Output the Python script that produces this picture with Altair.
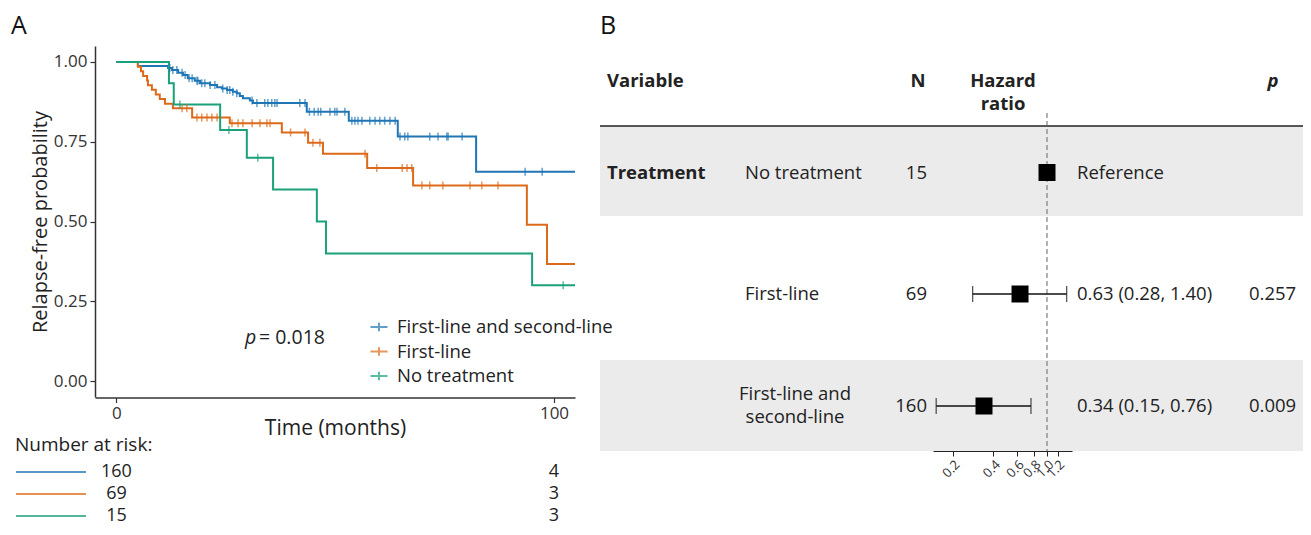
import altair as alt
import pandas as pd

FONT = "Open Sans"
W, H = 1295, 519
OX, OY = 8, 8
FS = 18.5


def px(x):
    return x - OX


def py(y):
    return y - OY


# ---------------- data ----------------
groups = ["First-line and second-line", "First-line", "No treatment"]
colors = ["#2076B5", "#DD6A1A", "#1AA07A"]

blue_t = [0, 4.9, 11.8, 12.7, 14.1, 15.2, 16.3, 17.9, 19.1, 21.4, 23.0, 24.1, 25.3, 26.6, 27.5,
          28.2, 28.9, 30.5, 31.2, 43.5, 53.1, 64.3, 82.2]
blue_s = [1.000, 0.987, 0.981, 0.975, 0.966, 0.959, 0.949, 0.941, 0.933, 0.928, 0.921, 0.917,
          0.912, 0.907, 0.902, 0.893, 0.886, 0.879, 0.871, 0.844, 0.816, 0.766, 0.656]
orange_t = [0, 4.9, 5.6, 6.1, 7.0, 7.2, 8.1, 9.0, 9.9, 11.1, 12.9, 17.3, 25.9, 37.8, 43.8, 47.2,
            57.3, 67.8, 93.8, 98.4]
orange_s = [1.000, 0.985, 0.971, 0.956, 0.942, 0.927, 0.913, 0.898, 0.884, 0.869, 0.855, 0.826,
            0.808, 0.779, 0.747, 0.712, 0.668, 0.613, 0.490, 0.367]
green_t = [0, 12.0, 13.1, 23.7, 29.8, 35.8, 45.8, 47.9, 95.0]
green_s = [1.000, 0.933, 0.867, 0.787, 0.700, 0.600, 0.500, 0.400, 0.300]
t_end = 104.8

blue_cens = [12.2, 12.9, 13.8, 15.0, 15.7, 16.6, 17.3, 18.4, 18.6, 19.5, 20.2, 21.4, 22.5, 24.3,
             25.3, 25.9, 26.6, 27.5, 31.0, 32.1, 33.9, 34.6, 35.5, 36.2, 36.7, 41.9, 43.1, 44.1,
             45.2, 46.1, 46.7, 48.8, 49.9, 50.4, 52.2, 53.8, 54.5, 55.2, 56.1, 57.9, 59.1, 60.2,
             61.3, 62.5, 63.7, 64.8, 65.9, 66.6, 71.6, 73.5, 75.5, 75.8, 79.0, 93.4, 97.3]
orange_cens = [15.0, 16.1, 18.4, 19.5, 20.7, 21.8, 23.0, 26.4, 27.8, 28.9, 31.0, 32.8, 34.4, 35.1,
               39.8, 43.1, 44.9, 46.5, 56.8, 59.5, 65.3, 66.4, 67.5, 69.8, 71.6, 74.6, 80.8, 83.5,
               87.2]
green_cens = [14.5, 25.7, 32.3, 102.1]

risk_at_0 = [160, 69, 15]
risk_at_100 = [4, 3, 3]
risk_times = [0, 100]

p_value_text = "= 0.018"

# forest plot data
f_levels = ["No treatment", "First-line", "First-line and\nsecond-line"]
f_n = [15, 69, 160]
f_hr = [1.0, 0.63, 0.34]
f_lo = [None, 0.28, 0.15]
f_hi = [None, 1.40, 0.76]
f_hr_text = ["Reference", "0.63 (0.28, 1.40)", "0.34 (0.15, 0.76)"]
f_p = ["", "0.257", "0.009"]
hr_ticks = [0.2, 0.4, 0.6, 0.8, 1.0, 1.2]

# ---------------- layout constants ----------------
row_y = [py(172.5), py(294), py(406)]
risk_row_y = [py(472), py(494), py(516)]

series = [(blue_t, blue_s, blue_cens), (orange_t, orange_s, orange_cens), (green_t, green_s, green_cens)]


def level_at(ts, ss, t):
    lv = ss[0]
    for a, b in zip(ts, ss):
        if a <= t:
            lv = b
    return lv


km_rows, cens_rows = [], []
for g, (ts, ss, cs) in zip(groups, series):
    for a, b in zip(ts, ss):
        km_rows.append({"group": g, "t": a, "S": b})
    km_rows.append({"group": g, "t": t_end, "S": ss[-1]})
    for c in cs:
        cens_rows.append({"group": g, "t": c, "S": level_at(ts, ss, c)})
km_df = pd.DataFrame(km_rows)
cens_df = pd.DataFrame(cens_rows)

# ---------------- KM panel ----------------
xs_km = alt.Scale(domain=[-4.9, 104.8], range=[px(95), px(575)], nice=False, zero=False)
ys_km = alt.Scale(domain=[-0.05, 1.05], range=[py(397), py(46)], nice=False, zero=False)
col_scale = alt.Scale(domain=groups, range=colors)

x_axis_km = alt.Axis(orient="bottom", offset=py(397.5) - H, values=[0, 100], format="d",
                     title="Time (months)", titleFontSize=21, titleFontWeight="normal",
                     titleColor="#222", titleFont=FONT, titleX=(px(95) + px(575)) / 2, titleY=31,
                     titleBaseline="middle", titleAlign="center",
                     labelFontSize=17, labelFont=FONT, labelColor="#333", labelPadding=3,
                     tickSize=5, tickColor="#333", tickWidth=1.2, domainColor="#333",
                     domainWidth=1.5, grid=False)
y_axis_km = alt.Axis(orient="left", offset=-px(95), values=[0, 0.25, 0.5, 0.75, 1.0], format=".2f",
                     title="Relapse-free probability", titleFontSize=20, titleFontWeight="normal",
                     titleColor="#222", titleFont=FONT, titleX=-55, titleY=py(221.5),
                     titleAngle=270, titleBaseline="middle", titleAlign="center",
                     labelFontSize=17, labelFont=FONT, labelColor="#333", labelPadding=3,
                     tickSize=5, tickColor="#333", tickWidth=1.2, domainColor="#333",
                     domainWidth=1.5, grid=False)
legend = alt.Legend(orient="none", legendX=px(369), legendY=py(317), title=None,
                    symbolType="M-1,0L1,0M0,-0.5L0,0.5", symbolSize=290, symbolStrokeWidth=2,
                    labelFontSize=FS, labelFont=FONT, labelColor="#222", labelOffset=8,
                    labelLimit=0, rowPadding=4.5, padding=0)

km_lines = alt.Chart(km_df).mark_line(interpolate="step-after", strokeWidth=2).encode(
    x=alt.X("t:Q", scale=xs_km, axis=x_axis_km),
    y=alt.Y("S:Q", scale=ys_km, axis=y_axis_km),
    color=alt.Color("group:N", scale=col_scale, legend=legend),
)
km_cens = alt.Chart(cens_df).mark_tick(orient="vertical", size=8, thickness=1.5).encode(
    x=alt.X("t:Q", scale=xs_km, axis=x_axis_km),
    y=alt.Y("S:Q", scale=ys_km, axis=y_axis_km),
    color=alt.Color("group:N", scale=col_scale, legend=legend),
)

risk_layers = []
for i, g in enumerate(groups):
    rdf = pd.DataFrame({"t": risk_times, "n": [str(risk_at_0[i]), str(risk_at_100[i])]})
    risk_layers.append(
        alt.Chart(rdf).mark_text(fontSize=18, font=FONT, color="#222", align="center",
                                 baseline="middle").encode(
            x=alt.X("t:Q", scale=xs_km, axis=x_axis_km),
            y=alt.value(risk_row_y[i]),
            text="n:N",
        )
    )

km_group = alt.layer(km_lines, km_cens, *risk_layers)

# ---------------- forest panel ----------------
xs_f = alt.Scale(type="log", domain=[0.142, 1.534], range=[px(933), px(1072)], nice=False)
ys_f = alt.Scale(domain=[0, H], range=[0, H], nice=False, zero=False)
x_axis_f = alt.Axis(orient="bottom", offset=py(451) - H, values=hr_ticks, format=".1f",
                    labelAngle=315, labelAlign="right", labelBaseline="top", labelFontSize=13,
                    labelFont=FONT, labelColor="#333", labelPadding=2, labelOverlap=False,
                    labelBound=False, labelFlush=False, title=None, tickSize=5,
                    tickColor="#222", domainColor="#222", domainWidth=1, grid=False)

fdf = pd.DataFrame({"level": f_levels, "n": [str(v) for v in f_n], "hr": f_hr, "lo": f_lo,
                    "hi": f_hi, "hrtext": f_hr_text, "p": f_p, "ry": row_y})
ci_df = fdf.dropna(subset=["lo"])
cap_df = pd.DataFrame({"cap": list(ci_df["lo"]) + list(ci_df["hi"]),
                       "ry": list(ci_df["ry"]) + list(ci_df["ry"])})

bands = []
for y0, y1 in [(126, 216), (360, 451)]:
    bands.append(alt.Chart(pd.DataFrame({"k": [0]})).mark_rect(color="#EBEBEB").encode(
        x=alt.value(px(600)), x2=alt.value(W), y=alt.value(py(y0)), y2=alt.value(py(y1))))

header_rule = alt.Chart(pd.DataFrame({"k": [0]})).mark_rule(color="#222", strokeWidth=1.5).encode(
    x=alt.value(px(600)), x2=alt.value(W), y=alt.value(py(126)))

ref_line = alt.Chart(pd.DataFrame({"one": [1.0]})).mark_rule(
    color="#666", strokeWidth=1, strokeDash=[5, 3]).encode(
    x=alt.X("one:Q", scale=xs_f, axis=x_axis_f), y=alt.value(py(113)), y2=alt.value(py(451)))

ci_rule = alt.Chart(ci_df).mark_rule(color="#111", strokeWidth=1.3).encode(
    x=alt.X("lo:Q", scale=xs_f, axis=x_axis_f), x2="hi:Q",
    y=alt.Y("ry:Q", scale=ys_f, axis=None))
ci_caps = alt.Chart(cap_df).mark_tick(orient="vertical", size=16, thickness=1.3, color="#111").encode(
    x=alt.X("cap:Q", scale=xs_f, axis=x_axis_f), y=alt.Y("ry:Q", scale=ys_f, axis=None))
squares = alt.Chart(fdf).mark_square(size=289, color="black", opacity=1).encode(
    x=alt.X("hr:Q", scale=xs_f, axis=x_axis_f), y=alt.Y("ry:Q", scale=ys_f, axis=None))


def col_text(df, field, xpos, align, **kw):
    return alt.Chart(df).mark_text(fontSize=FS, font=FONT, color="#222", align=align,
                                   baseline="middle", **kw).encode(
        x=alt.value(xpos), y=alt.Y("ry:Q", scale=ys_f, axis=None), text=f"{field}:N")


lev_left = col_text(fdf.iloc[:2], "level", px(745), "left")
lev_center = col_text(fdf.iloc[2:], "level", px(795), "center", lineBreak="\n", lineHeight=23,
                      dy=-12)
n_text = col_text(fdf, "n", px(927), "right")
hr_text = col_text(fdf, "hrtext", px(1077), "left")
p_text = col_text(fdf, "p", px(1249), "left")

forest_group = alt.layer(*bands, header_rule, ref_line, ci_rule, ci_caps, squares,
                         lev_left, lev_center, n_text, hr_text, p_text)


# ---------------- free annotations ----------------
def note(text, x, y, size=FS, align="left", weight="normal", style="normal", color="#222", **kw):
    return alt.Chart(pd.DataFrame({"k": [0]})).mark_text(
        text=text, fontSize=size, font=FONT, align=align, baseline="middle",
        fontWeight=weight, fontStyle=style, color=color, **kw).encode(
        x=alt.value(px(x)), y=alt.value(py(y)))


notes = [
    note("A", 11, 26, size=25, color="#111"),
    note("B", 600, 26, size=25, color="#111"),
    note("p", 245, 338, size=19.5, style="italic"),
    note(p_value_text, 259, 338, size=19.5),
    note("Number at risk:", 15, 445, size=19),
    note("Variable", 607, 81, weight="bold"),
    note("N", 918, 81, align="center", weight="bold"),
    note("Hazard\nratio", 1003, 81, align="center", weight="bold", lineBreak="\n", lineHeight=23),
    note("p", 1273, 81, align="center", weight="bold", style="italic"),
    note("Treatment", 607, 172.5, weight="bold"),
]

risk_keys = []
for i, c in enumerate(colors):
    risk_keys.append(alt.Chart(pd.DataFrame({"k": [0]})).mark_rule(color=c, strokeWidth=1.5).encode(
        x=alt.value(px(16)), x2=alt.value(px(86)), y=alt.value(risk_row_y[i])))

chart = alt.layer(km_group, forest_group, *notes, *risk_keys).resolve_scale(
    x="independent", y="independent"
).properties(
    width=W, height=H, padding=0, autosize=alt.AutoSizeParams(type="none")
).configure(font=FONT, background="white").configure_view(stroke=None)

chart.save("out.html", embed_options={"renderer": "svg", "actions": False})
